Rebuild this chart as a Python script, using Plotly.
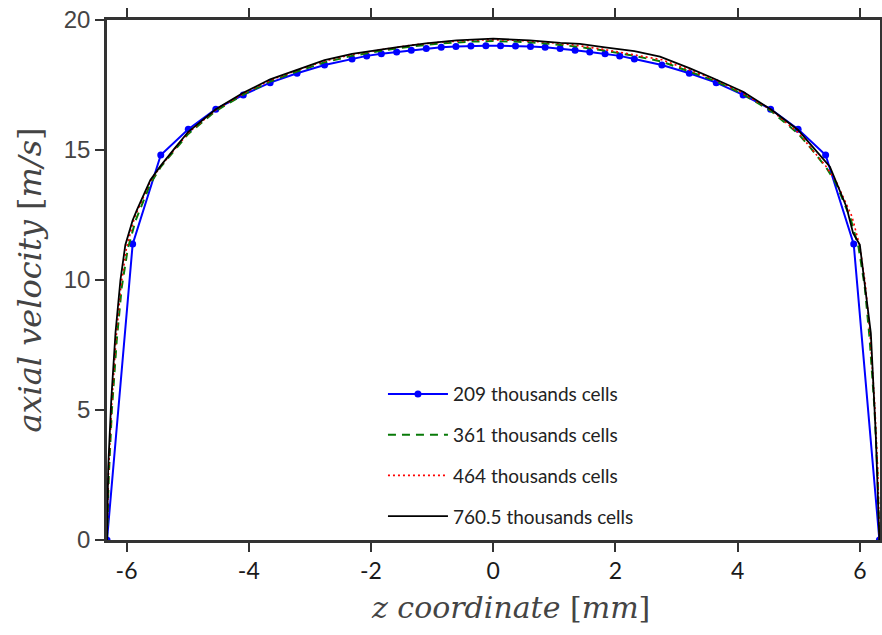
import plotly.graph_objects as go

# --- data ---------------------------------------------------------------
z_209 = [-6.32, -5.90, -5.44, -4.99, -4.54, -4.09, -3.65, -3.21, -2.76, -2.31,
         -2.07, -1.83, -1.58, -1.34, -1.095, -0.85, -0.61, -0.365, -0.12,
         0.12, 0.365, 0.61, 0.85, 1.095, 1.34, 1.58, 1.83, 2.07,
         2.31, 2.76, 3.21, 3.65, 4.09, 4.54, 4.99, 5.44, 5.90, 6.32]
v_209 = [0.0, 11.38, 14.81, 15.80, 16.57, 17.12, 17.59, 17.95, 18.27, 18.50,
         18.62, 18.70, 18.77, 18.84, 18.90, 18.95, 18.98, 19.00, 19.01,
         19.01, 19.00, 18.98, 18.95, 18.90, 18.84, 18.77, 18.70, 18.62,
         18.50, 18.27, 17.95, 17.59, 17.12, 16.57, 15.80, 14.81, 11.38, 0.0]

z_361 = [-6.32, -6.29, -6.24, -6.16, -6.08, -5.98, -5.85, -5.61, -5.44, -5.20,
         -4.99, -4.54, -4.09, -3.65, -3.21, -2.76, -2.31, -1.83, -1.35, -0.85,
         -0.36, 0.0, 0.36, 0.85, 1.35, 1.83, 2.31, 2.76, 3.21, 3.65, 4.09,
         4.54, 4.99, 5.20, 5.44, 5.61, 5.85, 5.98, 6.08, 6.16, 6.24, 6.29, 6.32]
v_361 = [0.0, 2.5, 5.0, 7.7, 9.7, 11.2, 12.3, 13.7, 14.35, 15.05,
         15.62, 16.50, 17.13, 17.63, 18.02, 18.37, 18.62, 18.82, 18.98, 19.10,
         19.17, 19.19, 19.17, 19.10, 18.98, 18.82, 18.62, 18.40, 18.03, 17.64, 17.14,
         16.51, 15.63, 15.06, 14.36, 13.72, 12.35, 11.25, 9.75, 7.75, 5.05, 2.5, 0.0]

z_464 = [-6.32, -6.295, -6.245, -6.17, -6.09, -6.00, -5.87, -5.61, -5.44, -5.20,
         -4.99, -4.54, -4.09, -3.65, -3.21, -2.76, -2.31, -1.83, -1.35, -0.85,
         -0.36, 0.0, 0.36, 0.85, 1.35, 1.83, 2.31, 2.76, 3.21, 3.65, 4.09,
         4.54, 4.99, 5.20, 5.44, 5.61, 5.87, 6.00, 6.09, 6.17, 6.245, 6.295, 6.32]
v_464 = [0.0, 2.6, 5.1, 7.8, 9.8, 11.25, 12.4, 13.8, 14.38, 15.08,
         15.66, 16.54, 17.17, 17.68, 18.07, 18.42, 18.67, 18.86, 19.03, 19.15,
         19.22, 19.24, 19.22, 19.15, 19.03, 18.86, 18.67, 18.47, 18.08, 17.69, 17.18,
         16.55, 15.67, 15.09, 14.39, 13.8, 12.45, 11.3, 9.85, 7.85, 5.15, 2.6, 0.0]

z_760 = [-6.32, -6.30, -6.25, -6.18, -6.10, -6.02, -5.90, -5.83, -5.61, -5.44,
         -5.20, -4.99, -4.54, -4.09, -3.65, -3.21, -2.76, -2.31, -1.83, -1.59,
         -1.10, -0.60, 0.0, 0.60, 1.10, 1.42, 1.83, 2.31, 2.73, 3.21, 3.60,
         4.09, 4.56, 4.99, 5.20, 5.51, 5.78, 5.89, 6.00, 6.18, 6.26, 6.29, 6.32]
v_760 = [0.0, 2.8, 5.4, 8.0, 10.0, 11.35, 12.3, 12.7, 13.85, 14.4,
         15.1, 15.7, 16.57, 17.2, 17.72, 18.1, 18.46, 18.7, 18.88, 18.95,
         19.1, 19.22, 19.28, 19.22, 19.12, 19.08, 18.95, 18.8, 18.59, 18.15, 17.76,
         17.24, 16.54, 15.77, 15.2, 14.36, 12.82, 11.8, 11.35, 7.96, 4.1, 1.54, 0.0]

x_ticks = [-6, -4, -2, 0, 2, 4, 6]
y_ticks = [0, 5, 10, 15, 20]

names = ["209 thousands cells", "361 thousands cells",
         "464 thousands cells", "760.5 thousands cells"]

x_title = "<i>z coordinate</i> [<i>mm</i>]"
y_title = "<i>axial velocity</i> [<i>m/s</i>]"

# --- figure ---------------------------------------------------------------
fig = go.Figure()
fig.add_trace(go.Scatter(x=z_209, y=v_209, name=names[0], mode="lines+markers",
                         line=dict(color="#0000ff", width=2),
                         marker=dict(color="#0000ff", size=7),
                         legendgroup="a"))
fig.add_trace(go.Scatter(x=z_361, y=v_361, name=names[1], mode="lines",
                         line=dict(color="#087a08", width=2, dash="8px,6px"),
                         legendgroup="b"))
fig.add_trace(go.Scatter(x=z_464, y=v_464, name=names[2], mode="lines",
                         line=dict(color="#ff0000", width=1.6, dash="2px,3px"),
                         legendgroup="c"))
fig.add_trace(go.Scatter(x=z_760, y=v_760, name=names[3], mode="lines",
                         line=dict(color="#000000", width=1.8),
                         legendgroup="d"))

axis_common = dict(showline=True, linecolor="#333333", linewidth=2.5,
                   mirror="ticks", ticks="outside", ticklen=9, tickwidth=1.5,
                   tickcolor="#333333", showgrid=False, zeroline=False,
                   automargin=False)

fig.update_xaxes(range=[-6.32, 6.33], tickvals=x_ticks,
                 ticktext=[str(t) if t >= 0 else "-" + str(-t) for t in x_ticks],
                 tickfont=dict(family="Lato, sans-serif", size=23,
                               color="#1a1a1a"),
                 **axis_common)
fig.update_yaxes(range=[0, 20], tickvals=y_ticks,
                 tickfont=dict(family="Liberation Sans, Arial, sans-serif",
                               size=24, color="#444444"),
                 title=dict(text=y_title,
                            font=dict(family="DejaVu Serif, serif", size=32,
                                      color="#444444"),
                            standoff=13),
                 **axis_common)

fig.add_annotation(text=x_title, xref="paper", yref="paper",
                   x=0.5, y=0, xanchor="center", yanchor="top",
                   xshift=17, yshift=-48, showarrow=False,
                   font=dict(family="DejaVu Serif, serif", size=30,
                             color="#444444"))

fig.update_layout(
    width=882, height=635,
    margin=dict(l=107, r=2, t=20, b=95),
    plot_bgcolor="white", paper_bgcolor="white",
    showlegend=True,
    legend=dict(x=0.357, y=0.317, xanchor="left", yanchor="top",
                bgcolor="rgba(0,0,0,0)", traceorder="grouped",
                tracegroupgap=13, itemwidth=60,
                font=dict(family="Lato, sans-serif", size=19,
                          color="#222222")),
)

fig.write_html("out.html", config={"displayModeBar": False},
               post_script="document.body.style.margin='0';")
